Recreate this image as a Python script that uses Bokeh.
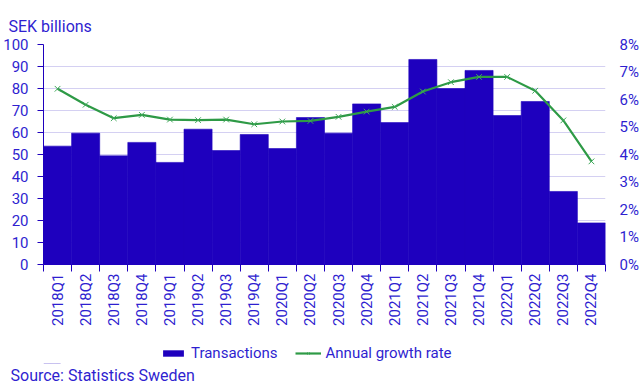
from bokeh.plotting import figure
from bokeh.layouts import column
from bokeh.models import (ColumnDataSource, Range1d, LinearAxis, Legend,
                          LegendItem, Title, FixedTicker, CustomJSTickFormatter)
from bokeh.embed import file_html
from bokeh.resources import INLINE

quarters = ["2018Q1", "2018Q2", "2018Q3", "2018Q4", "2019Q1", "2019Q2", "2019Q3", "2019Q4",
            "2020Q1", "2020Q2", "2020Q3", "2020Q4", "2021Q1", "2021Q2", "2021Q3", "2021Q4",
            "2022Q1", "2022Q2", "2022Q3", "2022Q4"]
transactions = [53.8, 59.7, 49.4, 55.5, 46.4, 61.5, 51.8, 59.1, 52.7, 66.8,
                59.7, 73.0, 64.5, 93.2, 80.0, 88.2, 67.7, 74.1, 33.2, 18.9]
growth_rate = [6.39, 5.81, 5.32, 5.44, 5.27, 5.25, 5.27, 5.10, 5.20, 5.22,
               5.37, 5.56, 5.73, 6.29, 6.63, 6.82, 6.82, 6.32, 5.24, 3.75]
left_ticks = [0, 10, 20, 30, 40, 50, 60, 70, 80, 90, 100]
right_ticks = [0, 1, 2, 3, 4, 5, 6, 7, 8]
y_title = "SEK billions"
source_note = "Source: Statistics Sweden"
series_names = ["Transactions", "Annual growth rate"]

BAR = "#1E00BE"
TXT = "#2f1fd0"
GRID = "#d4d0f2"
GREEN = "#2e9a46"
FONT = "Roboto"

n = len(quarters)
idx = list(range(n))
src = ColumnDataSource(dict(i=idx, t=transactions, g=growth_rate))

p = figure(x_range=Range1d(-0.5, n - 0.5), y_range=Range1d(0, 100),
           frame_width=562, frame_height=220,
           output_backend="svg", toolbar_location=None, x_axis_location=None,
           min_border_left=35, min_border_right=0, min_border_top=44, min_border_bottom=0)
p.extra_y_ranges = {"pct": Range1d(0, 8)}

bars = p.vbar(x="i", top="t", width=1.0, source=src, fill_color=BAR,
              line_color=BAR, line_width=0.6)
line = p.line(x="i", y="g", source=src, y_range_name="pct", line_color=GREEN, line_width=2.2)
marks = p.scatter(x="i", y="g", source=src, y_range_name="pct", marker="x", size=8,
                  line_color="#3fa85a", line_width=1)

p.outline_line_color = None
p.xgrid.grid_line_color = None
p.ygrid.grid_line_color = GRID
p.ygrid.ticker = FixedTicker(ticks=left_ticks)

p.yaxis.ticker = FixedTicker(ticks=left_ticks)
p.yaxis.axis_line_color = BAR
p.yaxis.major_tick_line_color = BAR
p.yaxis.major_tick_out = 6
p.yaxis.major_tick_in = 0
p.yaxis.minor_tick_line_color = None
p.yaxis.major_label_standoff = 9
p.yaxis.major_label_text_color = TXT
p.yaxis.major_label_text_font = FONT
p.yaxis.major_label_text_font_size = "15px"

ra = LinearAxis(y_range_name="pct", ticker=FixedTicker(ticks=right_ticks),
                formatter=CustomJSTickFormatter(code="return tick + '%';"))
ra.axis_line_color = None
ra.major_tick_line_color = None
ra.minor_tick_line_color = None
ra.major_tick_out = 0
ra.minor_tick_out = 0
ra.major_label_text_color = TXT
ra.major_label_text_font = FONT
ra.major_label_text_font_size = "15px"
ra.major_label_standoff = 14
p.add_layout(ra, "right")

# tick marks at category boundaries
edge_axis = LinearAxis(ticker=FixedTicker(ticks=[k - 0.5 for k in range(n + 1)]),
                       formatter=CustomJSTickFormatter(code="return '';"))
edge_axis.axis_line_color = BAR
edge_axis.major_tick_line_color = BAR
edge_axis.major_tick_out = 7
edge_axis.major_tick_in = 0
edge_axis.minor_tick_line_color = None
edge_axis.minor_tick_out = 0
edge_axis.major_label_standoff = 0
edge_axis.major_label_text_font_size = "1px"
p.add_layout(edge_axis, "below")

# category labels centred under the bars
cat_axis = LinearAxis(ticker=FixedTicker(ticks=idx),
                      major_label_overrides={k: q for k, q in zip(idx, quarters)})
cat_axis.axis_line_color = None
cat_axis.major_tick_line_color = None
cat_axis.minor_tick_line_color = None
cat_axis.major_tick_out = 0
cat_axis.minor_tick_out = 0
cat_axis.major_tick_in = 0
cat_axis.major_label_orientation = 1.5708
cat_axis.major_label_standoff = 2
cat_axis.major_label_text_color = TXT
cat_axis.major_label_text_font = FONT
cat_axis.major_label_text_font_size = "15px"
p.add_layout(cat_axis, "below")

top_title = Title(text=y_title, align="left", text_color=TXT,
                  text_font=FONT, text_font_size="16px", text_font_style="normal",
                  offset=-35, standoff=18)
p.add_layout(top_title, "above")

# legend + source strip
H2 = 56
W2 = 632
p2 = figure(width=W2, height=H2, x_range=Range1d(0, W2), y_range=Range1d(0, H2),
            output_backend="svg", toolbar_location=None,
            x_axis_location=None, y_axis_location=None, min_border=0)
p2.extra_y_ranges = {"off": Range1d(1000, 1001)}
p2.outline_line_color = None
p2.xgrid.grid_line_color = None
p2.ygrid.grid_line_color = None
lb = p2.vbar(x="i", top="t", width=1, source=src, y_range_name="off",
             fill_color=BAR, line_color=None)
ll = p2.line(x="i", y="g", source=src, y_range_name="off", line_color=GREEN, line_width=2.2)
lm = p2.scatter(x="i", y="g", source=src, y_range_name="off", marker="x", size=8,
                line_color="#3fa85a", line_width=1)
legend = Legend(items=[LegendItem(label=series_names[0], renderers=[lb]),
                       LegendItem(label=series_names[1], renderers=[ll, lm])],
                orientation="horizontal", location=(117, 1),
                label_text_color=TXT, label_text_font=FONT, label_text_font_size="15px",
                border_line_color=None, background_fill_alpha=0,
                glyph_width=26, glyph_height=8, spacing=17, padding=0, margin=0,
                label_standoff=5)
p2.add_layout(legend, "center")

src_title = Title(text=source_note, align="left", text_color=TXT,
                  text_font=FONT, text_font_size="16px", text_font_style="normal",
                  offset=-33, standoff=0)
p2.add_layout(src_title, "below")

layout = column(p, p2)
open("out.html", "w").write(file_html(layout, INLINE))
